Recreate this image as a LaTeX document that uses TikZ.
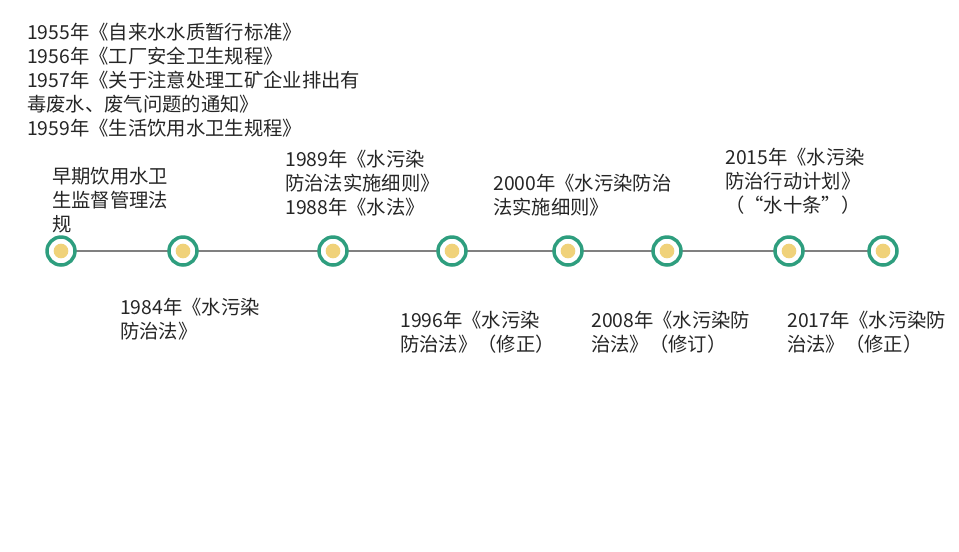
\documentclass[tikz,border=0pt]{standalone}
\usepackage{fontspec}
\setmainfont{Noto Sans CJK SC}
\begin{document}
\begin{tikzpicture}[x=0.75pt,y=-0.75pt,
  txt/.style={anchor=base west,inner sep=0pt,font=\fontsize{14.5pt}{16pt}\selectfont,text=black!85},
  ring/.style={circle,draw=teal!75!green!60!black,line width=2.6pt,fill=white,minimum size=21pt,inner sep=0pt},
  dot/.style={circle,fill=yellow!60!orange!55,minimum size=11pt,inner sep=0pt}]
\useasboundingbox[fill=white] (0,0) rectangle (959,551);
\definecolor{ringc}{HTML}{2E9E7E}
\definecolor{dotc}{HTML}{F0D27A}
\tikzset{ring/.append style={draw=ringc},dot/.append style={fill=dotc}}
\foreach \n/\x in {1/61,2/183,3/333,4/452,5/568,6/667,7/789,8/883}
  \coordinate (p\n) at (\x,251);
\draw[gray,line width=0.9pt] (p1) -- (p8);
\foreach \n in {1,...,8}{\node[ring] (r\n) at (p\n) {}; \node[dot] (d\n) at (p\n) {};}
\node[txt] (a1) at (27,39) {1955年《自来水水质暂行标准》};
\node[txt] (a2) at (27,63) {1956年《工厂安全卫生规程》};
\node[txt] (a3) at (27,87) {1957年《关于注意处理工矿企业排出有};
\node[txt] (a4) at (27,111) {毒废水、废气问题的通知》};
\node[txt] (a5) at (27,135) {1959年《生活饮用水卫生规程》};
\node[txt] (b1) at (52,183) {早期饮用水卫};
\node[txt] (b2) at (52,207) {生监督管理法};
\node[txt] (b3) at (52,231) {规};
\node[txt] (c1) at (120,314) {1984年《水污染};
\node[txt] (c2) at (120,338) {防治法》};
\node[txt] (e1) at (285,166) {1989年《水污染};
\node[txt] (e2) at (285,190) {防治法实施细则》};
\node[txt] (e3) at (285,214) {1988年《水法》};
\node[txt] (f1) at (400,327) {1996年《水污染};
\node[txt] (f2) at (400,351) {防治法》（修正）};
\node[txt] (g1) at (493,190) {2000年《水污染防治};
\node[txt] (g2) at (493,214) {法实施细则》};
\node[txt] (h1) at (591,327) {2008年《水污染防};
\node[txt] (h2) at (591,351) {治法》（修订）};
\node[txt] (i1) at (725,164) {2015年《水污染};
\node[txt] (i2) at (725,188) {防治行动计划》};
\node[txt] (i3) at (725,212) {（“水十条”）};
\node[txt] (j1) at (787,327) {2017年《水污染防};
\node[txt] (j2) at (787,351) {治法》（修正）};
\end{tikzpicture}
\end{document}
